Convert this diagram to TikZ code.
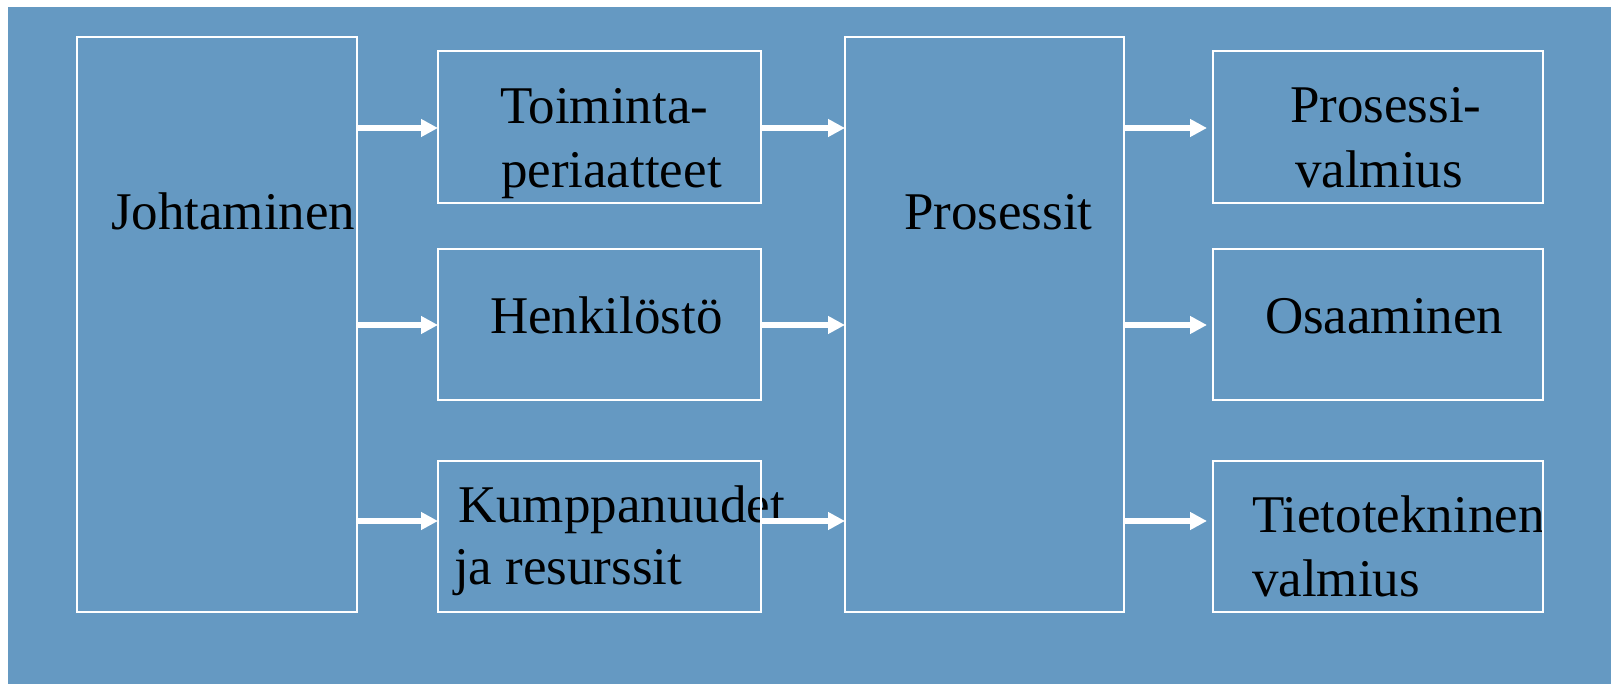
\documentclass[tikz,border=0pt]{standalone}
\usepackage{fontspec}
\setmainfont{Liberation Serif}
\usetikzlibrary{arrows.meta,calc}
\definecolor{bgblue}{RGB}{101,153,194}
\begin{document}
\begin{tikzpicture}[x=1pt,y=-1pt,
  box/.style={draw=white,line width=2pt,inner sep=0pt,outer sep=0pt},
  txt/.style={anchor=base west,inner sep=0pt,outer sep=0pt,font=\fontsize{53}{64}\selectfont,text=black},
  arr/.style={draw=white,line width=6pt,-{Triangle[length=17pt,width=17pt]}}]
\useasboundingbox (0,0) rectangle (1611,684);
\fill[white] (0,0) rectangle (1611,684);
\fill[bgblue] (8,7) rectangle (1611,684);
% texts
\node[txt] (tjoh) at (111,230) {Johtaminen};
\node[txt] (ttoim1) at (500,124) {Toiminta-};
\node[txt] (ttoim2) at (501,188) {periaatteet};
\node[txt] (thenk) at (490,334) {Henkilöstö};
\node[txt] (tkump1) at (458,522) {Kumppanuudet};
\node[txt] (tkump2) at (454,584) {ja resurssit};
\node[txt] (tpros) at (904,230) {Prosessit};
\node[txt] (tr11) at (1290,123) {Prosessi-};
\node[txt] (tr12) at (1295,188) {valmius};
\node[txt] (tr2) at (1265,334) {Osaaminen};
\node[txt] (tr31) at (1252,532) {Tietotekninen};
\node[txt] (tr32) at (1252,596) {valmius};
% boxes
\node[box,minimum width=280pt,minimum height=575pt] (joh) at (217,324.5) {};
\node[box,minimum width=323pt,minimum height=152pt] (toim) at (599.5,127) {};
\node[box,minimum width=323pt,minimum height=151pt] (henk) at (599.5,324.5) {};
\node[box,minimum width=323pt,minimum height=151pt] (kump) at (599.5,536.5) {};
\node[box,minimum width=279pt,minimum height=575pt] (pros) at (984.5,324.5) {};
\node[box,minimum width=330pt,minimum height=152pt] (r1) at (1378,127) {};
\node[box,minimum width=330pt,minimum height=151pt] (r2) at (1378,324.5) {};
\node[box,minimum width=330pt,minimum height=151pt] (r3) at (1378,536.5) {};
% arrow levels
\coordinate (a1) at (0,128);
\coordinate (a2) at (0,325);
\coordinate (a3) at (0,521);
\draw[arr] (joh.east |- a1) -- (toim.west |- a1);
\draw[arr] (joh.east |- a2) -- (henk.west |- a2);
\draw[arr] (joh.east |- a3) -- (kump.west |- a3);
\draw[arr] (toim.east |- a1) -- (pros.west |- a1);
\draw[arr] (henk.east |- a2) -- (pros.west |- a2);
\draw[arr] (kump.east |- a3) -- (pros.west |- a3);
\draw[arr,shorten >=6pt] (pros.east |- a1) -- (r1.west |- a1);
\draw[arr,shorten >=6pt] (pros.east |- a2) -- (r2.west |- a2);
\draw[arr,shorten >=6pt] (pros.east |- a3) -- (r3.west |- a3);
\end{tikzpicture}
\end{document}
